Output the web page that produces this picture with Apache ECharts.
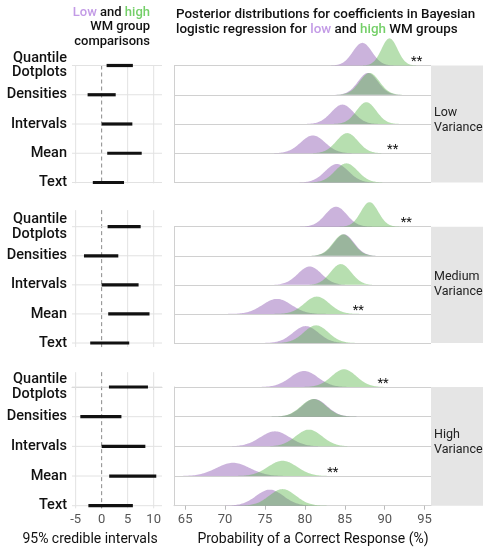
<!DOCTYPE html>
<html>
<head>
<meta charset="utf-8">
<script src="https://cdn.jsdelivr.net/npm/echarts@6/dist/echarts.min.js"></script>
<style>
  html, body { margin: 0; padding: 0; background: #fff; }
  #chart { width: 483px; height: 550px; }
</style>
</head>
<body>
<div id="chart"></div>
<script>
// Conditions (rows) and variance groups (facets)
const conditions = ['Quantile\nDotplots', 'Densities', 'Intervals', 'Mean', 'Text'];
const varianceGroups = ['Low\nVariance', 'Medium\nVariance', 'High\nVariance'];

// Posterior of P(correct) in %, low-WM group: mean and sd per condition
const lowWmMean = [
  [87.2, 87.9, 84.7, 81.0, 84.0],
  [83.9, 84.9, 80.6, 76.5, 80.1],
  [79.9, 81.2, 76.25, 71.0, 75.6]
];
const lowWmSd = [
  [1.2, 1.25, 1.4, 1.53, 1.47],
  [1.35, 1.26, 1.47, 1.8, 1.6],
  [1.72, 1.56, 1.84, 2.08, 1.72]
];
// Same for the high-WM group
const highWmMean = [
  [90.6, 88.1, 87.7, 85.3, 85.2],
  [88.1, 84.8, 84.5, 81.5, 81.4],
  [84.9, 81.1, 80.5, 77.2, 77.2]
];
const highWmSd = [
  [1.0, 1.25, 1.25, 1.35, 1.42],
  [1.1, 1.26, 1.3, 1.56, 1.53],
  [1.56, 1.56, 1.65, 1.8, 1.66]
];

// 95% credible intervals of the high - low difference (percentage points)
const diffLower = [
  [0.95, -2.7, 0.0, 1.07, -1.7],
  [1.14, -3.4, 0.0, 1.26, -2.2],
  [1.4, -4.1, 0.0, 1.45, -2.55]
];
const diffUpper = [
  [6.0, 2.7, 5.9, 7.7, 4.3],
  [7.5, 3.2, 7.1, 9.2, 5.3],
  [8.9, 3.8, 8.4, 10.5, 6.0]
];

// Significance markers: [condition row, x position in %]
const starMarks = [
  [[0, 94.0], [3, 91.0]],
  [[0, 92.7], [3, 86.7]],
  [[0, 89.8], [3, 83.5]]
];

// Axis ticks
const diffTicks = [-5, 0, 5, 10];
const probTicks = [65, 70, 75, 80, 85, 90, 95];

// ---- layout ----
const rowTop = [65.5, 226.7, 387];
const rowBottom = [182.5, 343, 505.7];
const leftPadTop = [0.0, 0.57, 0.5];
const leftPadBottom = [0.03, 0.14, 0.09];
const LEFT_X0 = 72, LEFT_X1 = 162;
const RIGHT_X0 = 174, RIGHT_X1 = 431;
const DENSITY_SCALE = 2.33; // rows per unit of density

const PURPLE = 'rgba(151,103,185,0.5)';
const GREEN = 'rgba(95,185,80,0.45)';
const GRID_COLOR = '#e2e2e2';
const FONT = 'Roboto, "Liberation Sans", Arial, sans-serif';

const grids = [], xAxes = [], yAxes = [], series = [], titles = [], graphics = [];

function normalPdf(x, mu, sd) {
  const z = (x - mu) / sd;
  return Math.exp(-0.5 * z * z) / (sd * Math.sqrt(2 * Math.PI));
}

function ridgeRender(fill) {
  return function (params, api) {
    const row = api.value(0), mu = api.value(1), sd = api.value(2);
    const base = 4 - row;
    const pts = [];
    const n = 100;
    const x0 = mu - 4 * sd, x1 = mu + 4 * sd;
    for (let i = 0; i <= n; i++) {
      const x = x0 + (x1 - x0) * i / n;
      pts.push(api.coord([x, base + DENSITY_SCALE * normalPdf(x, mu, sd)]));
    }
    pts.push(api.coord([x1, base]));
    pts.push(api.coord([x0, base]));
    return { type: 'polygon', shape: { points: pts }, style: { fill: fill } };
  };
}

for (let g = 0; g < 3; g++) {
  const sp = (rowBottom[g] - rowTop[g]) / 4;
  const isLast = g === 2;

  // ---------- left panel: credible intervals ----------
  const lgTop = rowTop[g] - leftPadTop[g] * sp;
  const lgH = (4 + leftPadTop[g] + leftPadBottom[g]) * sp;
  grids.push({ left: LEFT_X0, width: LEFT_X1 - LEFT_X0, top: lgTop, height: lgH, outerBoundsMode: 'none', containLabel: false });
  const li = grids.length - 1;
  xAxes.push({
    type: 'value', gridIndex: li, min: -5.7, max: 11.6,
    show: isLast,
    axisLine: { show: isLast, lineStyle: { color: '#d4d4d4' } },
    axisTick: { show: isLast, customValues: diffTicks, length: 3, lineStyle: { color: '#bbb' } },
    axisLabel: { show: isLast, customValues: diffTicks, color: '#555', fontSize: 13, fontFamily: FONT, margin: 5 },
    splitLine: { show: false }
  });
  yAxes.push({
    type: 'value', gridIndex: li, inverse: true,
    min: -leftPadTop[g], max: 4 + leftPadBottom[g],
    axisLine: { show: false }, axisTick: { show: false }, splitLine: { show: false },
    axisLabel: {
      customValues: [0, 1, 2, 3, 4],
      formatter: v => conditions[Math.round(v)],
      color: '#111', fontSize: 14.5, fontWeight: 500, fontFamily: FONT, lineHeight: 14.5, margin: 5
    }
  });
  // vertical reference lines at the tick values
  series.push({
    type: 'custom', xAxisIndex: li, yAxisIndex: li, silent: true, z: 1,
    data: diffTicks,
    renderItem: function (params, api) {
      const v = api.value(0);
      const a = api.coord([v, -leftPadTop[g]]), b = api.coord([v, 4 + leftPadBottom[g]]);
      return {
        type: 'line', shape: { x1: a[0], y1: a[1], x2: b[0], y2: b[1] },
        style: v === 0 ? { stroke: '#8a8a8a', lineWidth: 1, lineDash: [4, 3] } : { stroke: GRID_COLOR, lineWidth: 1 }
      };
    }
  });
  // horizontal row lines
  series.push({
    type: 'custom', xAxisIndex: li, yAxisIndex: li, silent: true, z: 1,
    data: [0, 1, 2, 3, 4],
    renderItem: function (params, api) {
      const r = api.value(0);
      const a = api.coord([-5.7, r]), b = api.coord([11.6, r]);
      return { type: 'line', shape: { x1: a[0], y1: a[1], x2: b[0], y2: b[1] }, style: { stroke: GRID_COLOR, lineWidth: 1 } };
    }
  });
  // interval bars
  series.push({
    type: 'custom', xAxisIndex: li, yAxisIndex: li, silent: true, z: 3,
    data: conditions.map((c, r) => [r, diffLower[g][r], diffUpper[g][r]]),
    renderItem: function (params, api) {
      const r = api.value(0);
      const a = api.coord([api.value(1), r]), b = api.coord([api.value(2), r]);
      return { type: 'line', shape: { x1: a[0], y1: a[1], x2: b[0], y2: b[1] }, style: { stroke: '#111', lineWidth: 3.2 } };
    }
  });

  // ---------- right panel: posterior ridgelines ----------
  grids.push({
    left: RIGHT_X0, width: RIGHT_X1 - RIGHT_X0, top: rowTop[g], height: rowBottom[g] - rowTop[g],
    outerBoundsMode: 'none', containLabel: false
  });
  const ri = grids.length - 1;
  xAxes.push({
    type: 'value', gridIndex: ri, min: 63.6, max: 95.8,
    show: isLast, offset: isLast ? 3 : 0,
    axisLine: { show: isLast, lineStyle: { color: '#d4d4d4' } },
    axisTick: { show: isLast, customValues: probTicks, length: 4, lineStyle: { color: '#bbb' } },
    axisLabel: { show: isLast, customValues: probTicks, color: '#555', fontSize: 13, fontFamily: FONT, margin: 5 },
    splitLine: { show: false }
  });
  yAxes.push({
    type: 'value', gridIndex: ri, min: 0, max: 4, interval: 1,
    axisLine: { show: true, lineStyle: { color: '#d0d0d0' } },
    axisTick: { show: false }, axisLabel: { show: false },
    splitLine: { show: true, lineStyle: { color: '#d0d0d0', width: 1 } }
  });
  series.push({
    type: 'custom', xAxisIndex: ri, yAxisIndex: ri, silent: true, z: 3, clip: false,
    data: conditions.map((c, r) => [r, lowWmMean[g][r], lowWmSd[g][r]]),
    renderItem: ridgeRender(PURPLE)
  });
  series.push({
    type: 'custom', xAxisIndex: ri, yAxisIndex: ri, silent: true, z: 4, clip: false,
    data: conditions.map((c, r) => [r, highWmMean[g][r], highWmSd[g][r]]),
    renderItem: ridgeRender(GREEN)
  });
  series.push({
    type: 'custom', xAxisIndex: ri, yAxisIndex: ri, silent: true, z: 5, clip: false,
    data: starMarks[g],
    renderItem: function (params, api) {
      const p = api.coord([api.value(1), 4 - api.value(0)]);
      return {
        type: 'text',
        style: { text: '**', x: p[0], y: p[1] + 3, align: 'center', verticalAlign: 'bottom', fontSize: 13, fontFamily: FONT, fill: '#111' }
      };
    }
  });

  // facet strip
  graphics.push({
    type: 'rect', silent: true, z: 0,
    shape: { x: RIGHT_X1, y: rowTop[g], width: 483 - RIGHT_X1, height: rowBottom[g] - rowTop[g] },
    style: { fill: '#e5e5e5' }
  });
}

const stripTextY = [120, 284.2, 442.5];
for (let g = 0; g < 3; g++) {
  graphics.push({
    type: 'text', silent: true, z: 10,
    style: {
      text: varianceGroups[g], x: RIGHT_X1 + 3, y: stripTextY[g], align: 'left', verticalAlign: 'middle',
      fontSize: 12.5, fontFamily: FONT, fill: '#222', lineHeight: 15
    }
  });
}

const richColors = {
  p: { color: '#c39be6', fontSize: 13, fontWeight: 500, fontFamily: FONT, lineHeight: 14.5 },
  g: { color: '#74cf68', fontSize: 13, fontWeight: 500, fontFamily: FONT, lineHeight: 14.5 },
  t: { color: '#111', fontSize: 13, fontWeight: 500, fontFamily: FONT, lineHeight: 14.5 }
};
const richColorsWide = {
  p: Object.assign({}, richColors.p, { fontSize: 13.4, lineHeight: 14.3 }),
  g: Object.assign({}, richColors.g, { fontSize: 13.4, lineHeight: 14.3 }),
  t: Object.assign({}, richColors.t, { fontSize: 13.4, lineHeight: 14.3 })
};

titles.push({
  text: '{p|Low}{t| and }{g|high}\n{t|WM group}\n{t|comparisons}',
  left: 150, top: 5.4, textAlign: 'right', padding: 0,
  textStyle: { fontSize: 13, fontWeight: 500, fontFamily: FONT, color: '#111', lineHeight: 14.5, rich: richColors }
});
titles.push({
  text: '{t|Posterior distributions for coefficients in Bayesian}\n{t|logistic regression for }{p|low}{t| and }{g|high}{t| WM groups}',
  left: 176, top: 7.9, textAlign: 'left', padding: 0,
  textStyle: { fontSize: 13.4, fontWeight: 500, fontFamily: FONT, color: '#111', lineHeight: 14.3, rich: richColorsWide }
});
titles.push({
  text: '95% credible intervals', left: 90, top: 532, textAlign: 'center', padding: 0,
  textStyle: { fontSize: 14, fontWeight: 'normal', fontFamily: FONT, color: '#111' }
});
titles.push({
  text: 'Probability of a Correct Response (%)', left: 313, top: 532, textAlign: 'center', padding: 0,
  textStyle: { fontSize: 14, fontWeight: 'normal', fontFamily: FONT, color: '#111' }
});

const chart = echarts.init(document.getElementById('chart'), null, { renderer: 'canvas' });
chart.setOption({
  animation: false,
  backgroundColor: '#fff',
  title: titles,
  grid: grids,
  xAxis: xAxes,
  yAxis: yAxes,
  series: series,
  graphic: graphics
});
</script>
</body>
</html>
